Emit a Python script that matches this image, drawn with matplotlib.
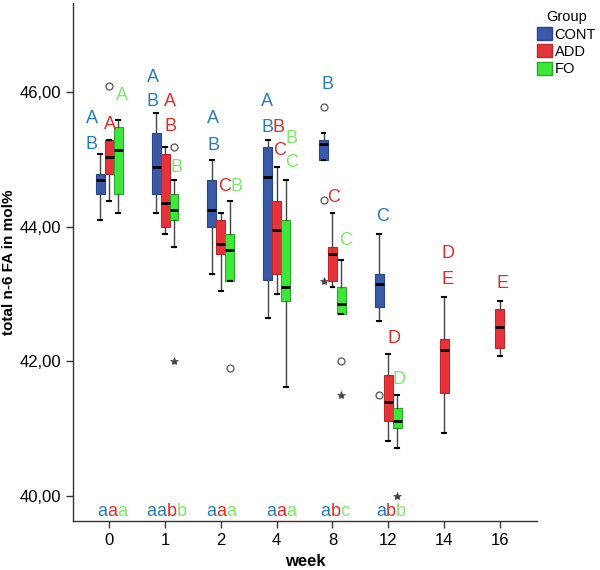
import numpy as np
import matplotlib
matplotlib.use("Agg")
import matplotlib.pyplot as plt
from matplotlib.patches import Patch
from matplotlib.ticker import FuncFormatter

plt.rcParams["font.family"] = ["Liberation Sans", "DejaVu Sans"]

weeks = ["0", "1", "2", "4", "8", "12", "14", "16"]
groups = ["CONT", "ADD", "FO"]

# five-number summaries per week: whisker low, q1, median, q3, whisker high (None = no data)
cont_stats = [
    [44.10, 44.49, 44.69, 44.79, 45.09],
    [44.20, 44.49, 44.89, 45.39, 45.69],
    [43.30, 44.00, 44.25, 44.69, 44.99],
    [42.64, 43.21, 44.74, 45.19, 45.29],
    [44.99, 44.99, 45.24, 45.29, 45.39],
    [42.60, 42.80, 43.15, 43.30, 43.90],
    None,
    None,
]
add_stats = [
    [44.39, 44.79, 45.04, 45.29, 45.29],
    [43.90, 44.00, 44.35, 45.09, 45.19],
    [43.04, 43.60, 43.75, 44.10, 44.20],
    [43.00, 43.30, 43.95, 44.39, 44.89],
    [43.10, 43.20, 43.60, 43.70, 44.20],
    [40.81, 41.11, 41.40, 41.80, 42.10],
    [40.93, 41.53, 42.16, 42.33, 42.95],
    [42.08, 42.19, 42.51, 42.78, 42.90],
]
fo_stats = [
    [44.20, 44.49, 45.14, 45.49, 45.59],
    [43.70, 44.10, 44.25, 44.49, 44.69],
    [43.20, 43.20, 43.65, 43.90, 44.39],
    [41.61, 42.90, 43.10, 44.10, 44.69],
    [42.70, 42.70, 42.85, 43.10, 43.50],
    [40.71, 41.00, 41.11, 41.31, 41.50],
    None,
    None,
]

# outliers (circles) and extremes (stars): (week index, value)
cont_out = [(4, 45.79), (4, 44.40), (5, 41.50)]
cont_ext = [(4, 43.20)]
add_out = [(0, 46.09)]
add_ext = []
fo_out = [(1, 45.19), (2, 41.90), (4, 42.00)]
fo_ext = [(1, 42.00), (4, 41.50), (5, 40.00)]

# significance letters above boxes: (x position, y value, text)
cont_letters = [(-0.31, 45.62, "A"), (-0.31, 45.22, "B"), (0.78, 46.23, "A"), (0.78, 45.87, "B"),
                (1.86, 45.62, "A"), (1.86, 45.21, "B"), (2.83, 45.87, "A"), (2.83, 45.48, "B"),
                (3.91, 46.12, "B"), (4.89, 44.16, "C")]
add_letters = [(0.01, 45.52, "A"), (1.09, 45.87, "A"), (1.10, 45.49, "B"), (2.07, 44.60, "C"),
               (3.03, 45.48, "B"), (3.05, 45.13, "C"), (4.02, 44.43, "C"), (5.10, 42.34, "D"),
               (6.07, 43.61, "D"), (6.07, 43.22, "E"), (7.05, 43.15, "E")]
fo_letters = [(0.22, 45.95, "A"), (1.21, 44.88, "B"), (2.28, 44.60, "B"), (3.27, 45.32, "B"),
              (3.26, 44.96, "C"), (4.24, 43.80, "C"), (5.20, 41.73, "D")]

# letters along the bottom (week index, letter per group)
bottom_letters = [
    (0, [("a", 0), ("a", 1), ("a", 2)]),
    (1, [("a", 0), ("a", 0), ("b", 1), ("b", 2)]),
    (2, [("a", 0), ("a", 1), ("a", 2)]),
    (3, [("a", 0), ("a", 1), ("a", 2)]),
    (4, [("a", 0), ("b", 1), ("c", 2)]),
    (5, [("a", 0), ("b", 1), ("b", 2)]),
]
bottom_left = [-0.21, 0.67, 1.73, 2.81, 3.79, 4.78]

box_colors = ["#3a5aa8", "#e8323a", "#3ee83a"]
edge_colors = ["#2b4488", "#b82a30", "#2aa82a"]
text_colors = ["#2a7ab8", "#e52a2a", "#7ee86a"]
offsets = [-0.16, 0.0, 0.16]
width = 0.16

fig = plt.figure(figsize=(6, 5.7), dpi=100)
ax = fig.add_axes([0.122, 0.0865, 0.7725, 0.908])

all_stats = [cont_stats, add_stats, fo_stats]
all_out = [cont_out, add_out, fo_out]
all_ext = [cont_ext, add_ext, fo_ext]
all_letters = [cont_letters, add_letters, fo_letters]


def xpos(i, g):
    n_groups = sum(1 for st in all_stats if st[i] is not None)
    return i + (offsets[g] if n_groups > 1 else 0.0)


for g in range(3):
    stats, pos = [], []
    for i, s in enumerate(all_stats[g]):
        if s is None:
            continue
        stats.append(dict(whislo=s[0], q1=s[1], med=s[2], q3=s[3], whishi=s[4], fliers=[]))
        pos.append(xpos(i, g))
    ax.bxp(stats, positions=pos, widths=width, patch_artist=True, showfliers=False,
           boxprops=dict(facecolor=box_colors[g], edgecolor=edge_colors[g], linewidth=0.8),
           medianprops=dict(color="black", linewidth=2),
           whiskerprops=dict(color="#444444", linewidth=1),
           capprops=dict(color="black", linewidth=1.5), capwidths=0.07)

    for i, v in all_out[g]:
        ax.plot(xpos(i, g), v, marker="o", ms=5, mfc="none", mec="#555555", mew=0.9, ls="none")
    for i, v in all_ext[g]:
        ax.plot(xpos(i, g), v, marker="*", ms=6, mfc="#444444", mec="#444444", mew=0.5, ls="none")

    for x, y, t in all_letters[g]:
        ax.text(x, y, t, color=text_colors[g], fontsize=13, ha="center", va="center")

for (i, parts), left in zip(bottom_letters, bottom_left):
    prev = None
    for ch, g in parts:
        if prev is None:
            prev = ax.text(left, 39.69, ch, color=text_colors[g], fontsize=13,
                           ha="left", va="baseline")
        else:
            prev = ax.annotate(ch, xy=(1, 0), xycoords=prev, color=text_colors[g],
                               fontsize=13, ha="left", va="bottom")

ax.set_xlim(-0.646, 7.66)
ax.set_ylim(39.626, 47.33)
ax.set_xticks(range(len(weeks)))
ax.set_xticklabels(weeks)
ax.set_yticks([40, 42, 44, 46])
ax.yaxis.set_major_formatter(FuncFormatter(lambda v, p: f"{v:.2f}".replace(".", ",")))
ax.tick_params(labelsize=12, length=5, width=1, colors="#333333")
ax.tick_params(labelcolor="black")
for side in ["top", "right"]:
    ax.spines[side].set_visible(False)
for side in ["left", "bottom"]:
    ax.spines[side].set_color("#333333")
    ax.spines[side].set_linewidth(1)

ax.set_xlabel("week", fontsize=12, fontweight="bold", labelpad=5)
ax.set_ylabel("total n-6 FA in mol%", fontsize=11, fontweight="bold", labelpad=3)

handles = [Patch(facecolor=box_colors[g], edgecolor=edge_colors[g], label=groups[g])
           for g in range(3)]
leg = fig.legend(handles=handles, title="Group", loc="upper left", bbox_to_anchor=(0.888, 0.99),
                 frameon=False, fontsize=10.5, title_fontsize=10.5, handlelength=1.0,
                 handleheight=1.0, handletextpad=0.2, labelspacing=0.2, borderpad=0.1,
                 borderaxespad=0.2)

fig.savefig("out.png", dpi=100)
